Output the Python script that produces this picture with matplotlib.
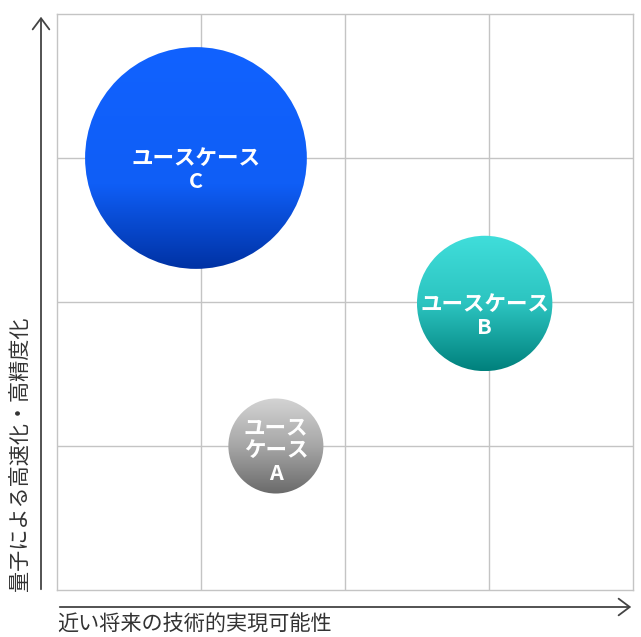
import numpy as np
import matplotlib
matplotlib.use("Agg")
from matplotlib import pyplot as plt
from matplotlib.patches import Circle, FancyArrowPatch
from matplotlib.colors import LinearSegmentedColormap

plt.rcParams['font.family'] = ['Noto Sans CJK JP', 'DejaVu Sans']

# bubble data (grid units, 4x4 grid)
labels = ["ユース\nケース\nA", "ユースケース\nB", "ユースケース\nC"]
x_vals = [1.52, 2.97, 0.965]
y_vals = [1.0, 1.99, 3.0]
radius = [0.33, 0.47, 0.77]

x_label = "近い将来の技術的実現可能性"
y_label = "量子による高速化・高精度化"

# gradient stops, top -> bottom
grad_colors = [
    ["#d4d4d4", "#a6a6a6", "#6a6a6a"],
    ["#40dedb", "#2cc4c0", "#00807c"],
    ["#1162ff", "#0f5ef6", "#0032a4"],
]
grad_mid = [0.5, 0.5, 0.62]

W, H, DPI = 641, 637, 100
fig = plt.figure(figsize=(W / DPI, H / DPI), dpi=DPI)

# plot box: x 57..633, y 14..590 (pixels)
ax = fig.add_axes([57 / W, (H - 590) / H, 576 / W, 576 / H])
ax.set_xticks([1, 2, 3])
ax.set_yticks([1, 2, 3])
ax.set_xticklabels([])
ax.set_yticklabels([])
ax.tick_params(length=0)
ax.grid(True, color="#c4c4c4", linewidth=1)
ax.set_axisbelow(True)
for s in ax.spines.values():
    s.set_color("#c4c4c4")
    s.set_linewidth(1)

for lab, x, y, r, cols, m in zip(labels, x_vals, y_vals, radius, grad_colors, grad_mid):
    cmap = LinearSegmentedColormap.from_list("g", [(0, cols[0]), (m, cols[1]), (1, cols[2])])
    grad = np.linspace(0, 1, 256).reshape(-1, 1)
    im = ax.imshow(grad, cmap=cmap, extent=(x - r, x + r, y - r, y + r),
                   origin="upper", aspect="auto", zorder=3, interpolation="bilinear")
    circ = Circle((x, y), r, transform=ax.transData, facecolor="none", edgecolor="none")
    ax.add_patch(circ)
    im.set_clip_path(circ)
    shift = 0.085 if lab.count("\n") == 1 else 0.03
    ax.text(x, y - shift, lab, ha="center", va="center", color="white",
            fontsize=15.5, fontweight="bold", linespacing=1.1, zorder=4)

ax.set_xlim(0, 4)
ax.set_ylim(0, 4)

# axis arrows in figure pixels
def px(xp, yp):
    return (xp / W, 1 - yp / H)

arrow_kw = dict(transform=fig.transFigure, arrowstyle="->,head_length=0.4,head_width=0.3",
                mutation_scale=20, color="#444444", linewidth=1.3)
fig.patches.append(FancyArrowPatch(px(41, 592), px(41, 14), **arrow_kw))
fig.patches.append(FancyArrowPatch(px(57, 607), px(634, 607), **arrow_kw))

fig.text(57 / W, 1 - 625 / H, x_label, ha="left", va="center", fontsize=15.2, color="#333333")
fig.text(20 / W, 1 - 591 / H, y_label, ha="center", va="bottom", rotation=90,
         fontsize=15.2, color="#333333")

fig.savefig("out.png", dpi=DPI)
